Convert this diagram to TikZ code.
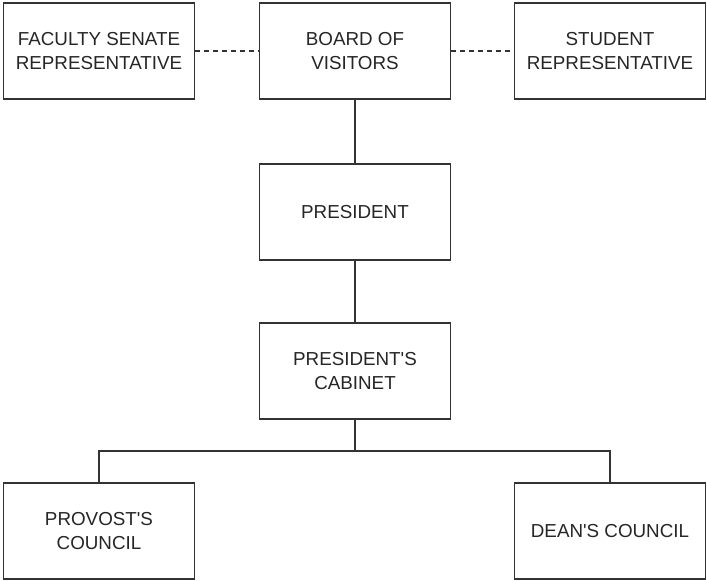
\documentclass[tikz,border=0pt]{standalone}
\usepackage{fontspec}
\setmainfont{Liberation Sans}[Ligatures=TeXOff]
\definecolor{ln}{HTML}{333333}
\begin{document}
\begin{tikzpicture}[x=1pt,y=-1pt,
  box/.style={draw=ln,line width=1.4pt,fill=white,minimum width=191pt,minimum height=96pt,inner sep=0pt,align=center,font=\fontsize{18.8}{24}\selectfont,text=black!85},
  conn/.style={draw=ln,line width=1.4pt},
  dconn/.style={draw=ln,line width=1.1pt,dash pattern=on 5pt off 4pt}]
\useasboundingbox[fill=white] (0,0) rectangle (707,581);
\node[box] (fac) at (99,51) {FACULTY SENATE\\REPRESENTATIVE};
\node[box] (bov) at (355,51) {BOARD OF\\VISITORS};
\node[box] (stu) at (610,51) {STUDENT\\REPRESENTATIVE};
\node[box] (pres) at (355,212) {PRESIDENT};
\node[box] (cab) at (355,371) {PRESIDENT'S\\CABINET};
\node[box] (prov) at (99,531) {PROVOST'S\\COUNCIL};
\node[box] (dean) at (610,531) {DEAN'S COUNCIL};
\coordinate (mid) at (355,451);
\draw[dconn] (fac.east) -- (bov.west);
\draw[dconn] (bov.east) -- (stu.west);
\draw[conn] (bov.south) -- (pres.north);
\draw[conn] (pres.south) -- (cab.north);
\draw[conn] (cab.south) -- (mid);
\draw[conn] (mid) -| (prov.north);
\draw[conn] (mid) -| (dean.north);
\end{tikzpicture}
\end{document}
